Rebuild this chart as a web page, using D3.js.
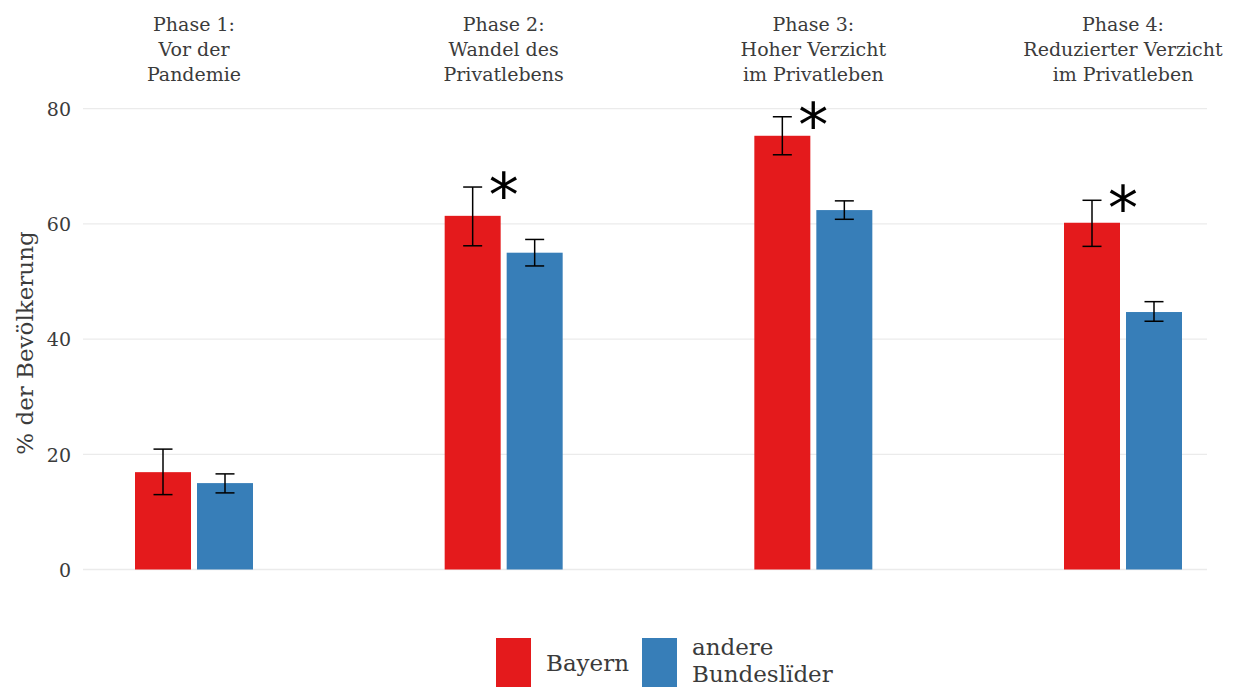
<!DOCTYPE html>
<html><head><meta charset="utf-8">
<script src="https://cdn.jsdelivr.net/npm/d3@7"></script>
<style>body{margin:0;background:#fff}svg{display:block}</style>
</head><body>
<svg id="chart" width="1238" height="688"></svg>
<script>
const phases = ["Phase 1", "Phase 2", "Phase 3", "Phase 4"];
const phaseLabels = [
  ["Phase 1:", "Vor der", "Pandemie"],
  ["Phase 2:", "Wandel des", "Privatlebens"],
  ["Phase 3:", "Hoher Verzicht", "im Privatleben"],
  ["Phase 4:", "Reduzierter Verzicht", "im Privatleben"]
];
const series = ["Bayern", "andere Bundeslïder"];
const bayern      = [16.9, 61.4, 75.3, 60.2];
const bayernLow   = [13.0, 56.2, 72.0, 56.1];
const bayernHigh  = [20.9, 66.4, 78.6, 64.1];
const andere      = [15.0, 55.0, 62.4, 44.7];
const andereLow   = [13.3, 52.7, 60.8, 43.1];
const andereHigh  = [16.6, 57.3, 64.0, 46.5];
const significant = [false, true, true, true];
const yTicks = [0, 20, 40, 60, 80];
const colors = ["#E41A1C", "#377EB8"];
const yTitle = "% der Bevölkerung";

const font = "'DejaVu Serif', serif";
const fs = 19;
const fsBig = 23;
const textCol = "#3b3b3b";
const svg = d3.select("#chart");

const x = d3.scalePoint().domain(phases).range([194, 1123]);
const xInner = d3.scaleBand().domain(series).range([-59, 59]).paddingInner(6/62);
const y = d3.scaleLinear().domain([0, 80]).range([569.5, 108.7]);

// grid
svg.append("g").selectAll("line").data(yTicks).join("line")
  .attr("x1", 83).attr("x2", 1207)
  .attr("y1", d => y(d)).attr("y2", d => y(d))
  .attr("stroke", "#ebebeb").attr("stroke-width", 1.3);

// y axis
const yAxis = d3.axisLeft(y).tickValues(yTicks).tickSize(0).tickPadding(0);
const ga = svg.append("g").attr("transform", "translate(71,0)").call(yAxis);
ga.select(".domain").remove();
ga.selectAll("text").attr("font-family", font).attr("font-size", fs).attr("fill", textCol).attr("dy", "0.36em");

svg.append("text")
  .attr("transform", "translate(33,343) rotate(-90)")
  .attr("text-anchor", "middle")
  .attr("font-family", font).attr("font-size", fsBig).attr("fill", textCol)
  .text(yTitle);

// phase labels
const pl = svg.append("g").selectAll("text").data(phases).join("text")
  .attr("x", d => x(d)).attr("text-anchor", "middle")
  .attr("font-family", font).attr("font-size", fs).attr("fill", textCol);
pl.each(function(d, i) {
  d3.select(this).selectAll("tspan").data(phaseLabels[i]).join("tspan")
    .attr("x", x(d)).attr("y", (t, j) => 30.5 + j * 25.3).text(t => t);
});

const seriesData = [
  {name: series[0], vals: bayern, lo: bayernLow, hi: bayernHigh, color: colors[0]},
  {name: series[1], vals: andere, lo: andereLow, hi: andereHigh, color: colors[1]}
];

seriesData.forEach(s => {
  const g = svg.append("g");
  g.selectAll("rect").data(phases).join("rect")
    .attr("x", (p) => x(p) + xInner(s.name))
    .attr("width", xInner.bandwidth())
    .attr("y", (p, i) => y(s.vals[i]))
    .attr("height", (p, i) => y(0) - y(s.vals[i]))
    .attr("fill", s.color);
  const cx = p => x(p) + xInner(s.name) + xInner.bandwidth() / 2;
  const eb = svg.append("g").attr("stroke", "#000").attr("stroke-width", 1.5);
  eb.selectAll(".v").data(phases).join("line").attr("class", "v")
    .attr("x1", cx).attr("x2", cx)
    .attr("y1", (p, i) => y(s.lo[i])).attr("y2", (p, i) => y(s.hi[i]));
  eb.selectAll(".t").data(phases).join("line").attr("class", "t")
    .attr("x1", p => cx(p) - 9.5).attr("x2", p => cx(p) + 9.5)
    .attr("y1", (p, i) => y(s.hi[i])).attr("y2", (p, i) => y(s.hi[i]));
  eb.selectAll(".b").data(phases).join("line").attr("class", "b")
    .attr("x1", p => cx(p) - 9.5).attr("x2", p => cx(p) + 9.5)
    .attr("y1", (p, i) => y(s.lo[i])).attr("y2", (p, i) => y(s.lo[i]));
});

// significance asterisks
svg.append("g").selectAll("text").data(phases.filter((p, i) => significant[i])).join("text")
  .attr("x", p => x(p))
  .attr("y", p => y(bayernHigh[phases.indexOf(p)]) + 29)
  .attr("text-anchor", "middle")
  .attr("font-family", "'DejaVu Sans', sans-serif").attr("font-size", 60).attr("fill", "#000")
  .text("*");

// legend
const legend = svg.append("g");
legend.append("rect").attr("x", 496).attr("y", 638).attr("width", 35).attr("height", 49).attr("fill", colors[0]);
legend.append("rect").attr("x", 642).attr("y", 638).attr("width", 35).attr("height", 49).attr("fill", colors[1]);
legend.append("text").attr("x", 546).attr("y", 671).attr("font-family", font).attr("font-size", fsBig).attr("fill", textCol).text(series[0]);
const lt = legend.append("text").attr("font-family", font).attr("font-size", fsBig).attr("fill", textCol);
lt.append("tspan").attr("x", 692).attr("y", 655).text("andere");
lt.append("tspan").attr("x", 692).attr("y", 682).text("Bundeslïder");
</script>
</body></html>
